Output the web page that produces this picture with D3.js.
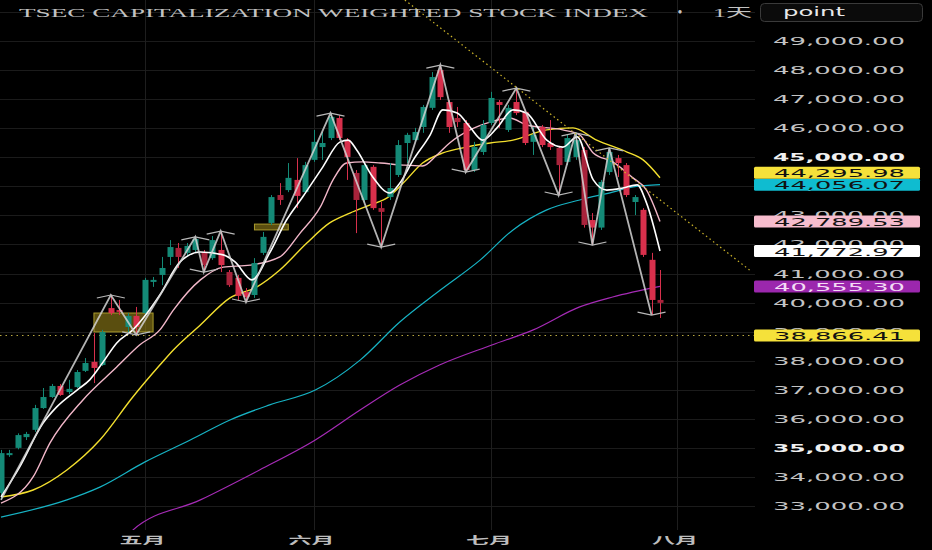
<!DOCTYPE html>
<html>
<head>
<meta charset="utf-8">
<script src="https://cdn.jsdelivr.net/npm/d3@7"></script>
<style>
  body { margin: 0; background: #000; overflow: hidden; }
</style>
</head>
<body>
<div id="chart"></div>
<script>
// bars (one per trading day)
const opens  = [33450,34750,35000,35370,35620,36370,36750,37130,36920,37090,37650,37960,37850,39810,39740,39160,39540,39640,40710,40950,
                41570,41880,41710,41810,41740,41530,41810,41050,40850,40360,40260,41710,42740,43700,43870,44220,43800,44910,45350,45660,
                46350,45590,44460,43530,44670,43250,43630,44390,45490,45590,46040,46700,48000,46900,46350,46180,44560,45180,46180,46900,
                45940,46900,46560,45530,46040,45490,45320,44840,45010,45250,42840,42580,44490,44970,44730,43460,43190,41470,40090];
const highs  = [34930,34930,35500,35550,36480,37060,37200,37200,37340,37680,38090,38950,39060,40260,40090,39640,39850,40850,40880,41570,
                42150,42050,42050,42260,41810,42290,42460,41120,40950,40500,41530,42430,43700,44110,44800,44970,44840,45940,45870,46520,
                46450,45660,44560,44840,44730,43460,44800,45590,45840,46010,46800,47930,48170,46970,46730,46280,45530,46280,47250,46970,
                46800,47380,46630,46040,46110,46280,45390,45770,45840,45350,43080,44220,45320,45080,44800,43700,43250,41710,41120];
const lows   = [33210,34690,34950,35270,35550,36340,36720,36790,36850,37060,37610,37230,37820,39570,39570,38950,38890,39570,40540,40600,
                41290,41190,41600,41740,41050,41470,41050,40540,40090,40020,40160,41640,42670,43360,43800,43250,43740,44840,44910,45590,
                45590,44220,42390,43430,43190,41910,43530,44320,44800,45530,45840,46630,46970,45840,46040,44490,44490,45080,46110,46010,
                45870,46450,45420,45080,45350,45250,43700,44730,44910,42580,41980,42500,44390,44320,43630,43010,41570,39570,39470];
const closes = [34820,34820,35440,35480,36370,36750,37130,36820,37030,37610,37920,37750,38990,39640,39680,39540,39160,40780,40780,41190,
                41910,41570,41950,42190,41290,42150,41290,40600,40230,40190,41360,42260,43630,43530,44290,43670,44730,45530,45490,46390,
                45660,45010,43530,44730,43250,43120,43940,45420,45770,45870,46730,47760,47070,46040,46210,44560,45350,46110,47040,46800,
                46700,46520,45490,45770,45420,45350,44730,45660,45590,42670,42580,44150,45180,44800,43700,43630,41640,40090,39990];

// swing points of the zigzag (bar index, price)
const pivotIdx = [0,13,16,23,24,26,29,39,45,52,55,61,66,68,70,72,77];
const pivotVal = [33210,40260,38890,42260,41050,42460,40020,46520,41910,48170,44490,47380,43700,45840,41980,45320,39570];

// moving averages: [bar index, value]
const maWhite = [[0,33310],[2.2,34340],[5,35860],[6.6,36410],[9,36990],[10.5,37340],[12.1,37960],[13.7,38610],[15.6,39060],[17.3,39640],
                 [18.8,40260],[21.2,41400],[23.6,41740],[26.3,41640],[27.7,41400],[29.7,40780],[31.8,41710],[33.8,42840],[35.7,43630],
                 [38.1,44670],[40.1,45520],[41.1,45590],[42.1,45250],[44,44320],[46,43770],[47.2,44110],[48.8,44910],[50.8,45770],
                 [52.3,46630],[54,46520],[55.5,46040],[57,45590],[58.7,46010],[60.6,46630],[62.2,46520],[64.6,45590],[66.5,45350],
                 [68.2,45700],[70.1,44220],[71.7,43870],[73.6,43940],[75.3,44050],[76.4,43430],[78,41772.97]];
const maPink  = [[0,33100],[3.8,34000],[5.8,35170],[9.7,36650],[13.7,37780],[16.4,38540],[18.8,39060],[20.4,39740],[23.6,40780],
                 [26.3,41220],[29.5,41290],[33,41570],[35.4,42390],[37.8,43290],[39.3,44220],[40.9,44800],[42.8,44840],[44.9,44800],
                 [47.6,44730],[49.9,44700],[51.6,45080],[53.1,45490],[55.5,45940],[57.9,46210],[60.2,46350],[62.2,46110],[66.5,45940],
                 [68.5,45770],[70.1,45150],[72.4,44840],[74.8,44290],[76.4,43870],[78,42789.53]];
const maYellow = [[0,33310],[3.8,33550],[7.8,34240],[11.7,35270],[15.6,36750],[18.8,37850],[20.4,38370],[23.6,39230],[27.1,40160],
                  [30.3,40540],[33,41120],[36.2,42050],[38.9,42740],[41.3,43080],[43.7,43360],[45.7,43600],[47.6,44110],[49.9,44800],
                  [52.3,45150],[55.1,45350],[57.9,45490],[60.6,45590],[64.6,45940],[67.7,46010],[70.5,45590],[74.1,45180],[76,44910],
                  [78,44295.98]];
const maCyan  = [[0,32620],[7.8,33210],[11.7,33650],[17,34510],[22.4,35270],[27.1,35960],[31.8,36480],[37.2,36990],[42.5,38020],
                 [47.2,39330],[52,40430],[56.7,41460],[60.6,42500],[64.6,43190],[68.5,43530],[72.4,43800],[74.8,43980],[78,44056.07]];
const maPurple = [[15,31950],[15.6,32170],[23.6,33210],[30.6,34240],[37.2,35270],[42.5,36300],[47.2,37160],[51.9,37850],[58.1,38540],
                  [63,39060],[68.5,39850],[72.4,40190],[78,40555.30]];

// drawing tools on the chart
const boxStart = [11, 30];
const boxEnd = [18, 34];
const boxTop = [39640, 42700];
const boxBottom = [38990, 42500];
const trendIdx = [47.8, 88.6];
const trendVal = [50410, 41120];
const hLineVal = 38866.41;

// axes
const yTicks = [33000,34000,35000,36000,37000,38000,39000,40000,41000,42000,43000,44000,45000,46000,47000,48000,49000];
const gridTop = 50000;
const boldTicks = [35000, 45000];
const monthLabels = ['五月', '六月', '七月', '八月'];
const monthStart = [17, 37, 58, 80];

const svgWidth = 932, svgHeight = 550;
const plotRight = 755, plotBottom = 530;

function translate(x, y) {
    return 'translate(' + x + ',' + y + ')';
}

const x = d3.scaleLinear().domain([0, 78]).range([1, 660]);
const y = d3.scaleLinear().domain([33000, 49000]).range([506, 41]);

const svg = d3.select('#chart').append('svg')
    .attr('width', svgWidth)
    .attr('height', svgHeight)
    .style('background', '#000');

svg.append('defs').append('clipPath').attr('id', 'plot')
    .append('rect').attr('x', 0).attr('y', 0).attr('width', plotRight).attr('height', plotBottom);

// grid
svg.append('g').selectAll('line').data(yTicks.concat([gridTop])).enter().append('line')
    .attr('x1', 0).attr('x2', plotRight)
    .attr('y1', d => Math.round(y(d)) + 0.5).attr('y2', d => Math.round(y(d)) + 0.5)
    .attr('stroke', '#1b1b1b');
svg.append('g').selectAll('line').data(monthStart).enter().append('line')
    .attr('x1', d => Math.round(x(d)) + 0.5).attr('x2', d => Math.round(x(d)) + 0.5)
    .attr('y1', 0).attr('y2', plotBottom)
    .attr('stroke', '#1e1e1e');

const plot = svg.append('g').attr('clip-path', 'url(#plot)');

// horizontal dotted level
plot.append('line')
    .attr('x1', 0).attr('x2', plotRight)
    .attr('y1', y(hLineVal)).attr('y2', y(hLineVal))
    .attr('stroke', '#b7a640').attr('stroke-width', 1)
    .attr('stroke-dasharray', '1.5,4');

// moving averages (slow ones behind)
const line = d3.line().x(d => x(d[0])).y(d => y(d[1])).curve(d3.curveMonotoneX);
const maSeries = [
    {data: maPurple, color: '#a62bb6', w: 1.2},
    {data: maCyan, color: '#17b3c4', w: 1.2},
    {data: maYellow, color: '#f3df2e', w: 1.4},
    {data: maPink, color: '#f2b7c9', w: 1.4},
];
plot.selectAll('.ma').data(maSeries).enter().append('path')
    .attr('class', 'ma')
    .attr('d', d => line(d.data))
    .attr('fill', 'none')
    .attr('stroke', d => d.color)
    .attr('stroke-width', d => d.w);

// boxes
plot.selectAll('.box').data(boxStart).enter().append('rect')
    .attr('class', 'box')
    .attr('x', (d, i) => x(d))
    .attr('y', (d, i) => y(boxTop[i]))
    .attr('width', (d, i) => x(boxEnd[i]) - x(d))
    .attr('height', (d, i) => y(boxBottom[i]) - y(boxTop[i]))
    .attr('fill', 'rgba(150,130,25,0.6)')
    .attr('stroke', '#a99a2c');

// candles
const idx = d3.range(opens.length);
const up = '#148a77', down = '#d7304c';
const candles = plot.append('g').selectAll('g').data(idx).enter().append('g');
candles.append('line')
    .attr('x1', i => Math.round(x(i)) + 0.5).attr('x2', i => Math.round(x(i)) + 0.5)
    .attr('y1', i => y(highs[i])).attr('y2', i => y(lows[i]))
    .attr('stroke', i => closes[i] >= opens[i] ? up : down);
candles.append('rect')
    .attr('x', i => Math.round(x(i)) - 2.5)
    .attr('width', 6)
    .attr('y', i => y(Math.max(opens[i], closes[i])))
    .attr('height', i => Math.max(1.5, Math.abs(y(opens[i]) - y(closes[i]))))
    .attr('fill', i => closes[i] >= opens[i] ? up : (i % 3 === 0 ? '#a8233b' : down));

// white MA on top of candles
plot.append('path')
    .attr('d', line(maWhite))
    .attr('fill', 'none')
    .attr('stroke', '#ffffff')
    .attr('stroke-width', 1.6);

// zigzag + chevrons
plot.append('path')
    .attr('d', d3.line()(pivotIdx.map((d, i) => [x(d), y(pivotVal[i])])))
    .attr('fill', 'none')
    .attr('stroke', '#d2d2d2')
    .attr('stroke-opacity', 0.85)
    .attr('stroke-width', 1.8);
plot.selectAll('.chev').data(pivotIdx.slice(1)).enter().append('path')
    .attr('class', 'chev')
    .attr('d', (d, k) => {
        const i = k + 1;
        const px = x(d), py = y(pivotVal[i]);
        const isHigh = pivotVal[i] > pivotVal[i - 1];
        const s = isHigh ? 1 : -1;
        return 'M' + (px - 14) + ',' + (py + 3 * s) + 'L' + px + ',' + py + 'L' + (px + 14) + ',' + (py + 3 * s);
    })
    .attr('fill', 'none')
    .attr('stroke', '#b9b9b9')
    .attr('stroke-width', 1.2);

// dotted trend line
plot.append('line')
    .attr('x1', x(trendIdx[0])).attr('y1', y(trendVal[0]))
    .attr('x2', x(trendIdx[1])).attr('y2', y(trendVal[1]))
    .attr('stroke', '#cdb52a').attr('stroke-width', 1.2)
    .attr('stroke-dasharray', '1.5,3');

// price axis labels
const axisFont = '"DejaVu Sans", sans-serif';
svg.append('g').selectAll('text').data(yTicks).enter().append('text')
    .attr('x', 773)
    .attr('y', d => y(d) + 4)
    .attr('textLength', 132)
    .attr('lengthAdjust', 'spacingAndGlyphs')
    .style('font-family', axisFont)
    .style('font-size', '11px')
    .style('font-weight', d => boldTicks.includes(d) ? 'bold' : 'normal')
    .attr('fill', d => boldTicks.includes(d) ? '#f0f0f0' : '#c4c4c4')
    .text(d => d3.format(',.2f')(d));

// value tags
const tags = [
    {v: maYellow[maYellow.length - 1][1], fill: '#f5e13a', text: '#111'},
    {v: maCyan[maCyan.length - 1][1], fill: '#0fbcd0', text: '#111'},
    {v: maPink[maPink.length - 1][1], fill: '#f6bccd', text: '#111'},
    {v: maWhite[maWhite.length - 1][1], fill: '#ffffff', text: '#111'},
    {v: maPurple[maPurple.length - 1][1], fill: '#9b27ad', text: '#f3dcf5'},
    {v: hLineVal, fill: '#f5e13a', text: '#111'},
];
tags.forEach(t => t.cy = y(t.v));
tags.sort((a, b) => b.cy - a.cy);
for (let k = 1; k < tags.length; k++) {
    if (tags[k - 1].cy - tags[k].cy < 12) tags[k].cy = tags[k - 1].cy - 12;
}
const tagG = svg.append('g').selectAll('g').data(tags).enter().append('g')
    .attr('transform', d => translate(0, d.cy));
tagG.append('rect')
    .attr('x', 754).attr('y', -6).attr('width', 166).attr('height', 12).attr('rx', 1.5)
    .attr('fill', d => d.fill);
tagG.append('text')
    .attr('x', 774).attr('y', 4.5)
    .attr('textLength', 131)
    .attr('lengthAdjust', 'spacingAndGlyphs')
    .style('font-family', axisFont)
    .style('font-size', '11px')
    .attr('fill', d => d.text)
    .text(d => d3.format(',.2f')(d.v));

// month labels
svg.append('g').selectAll('text').data(monthStart).enter().append('text')
    .attr('x', d => x(d) - 25)
    .attr('y', 544)
    .attr('textLength', 46)
    .attr('lengthAdjust', 'spacingAndGlyphs')
    .style('font-family', '"Noto Sans CJK SC", sans-serif')
    .style('font-size', '10px')
    .style('font-weight', 'bold')
    .attr('fill', '#bdbdbd')
    .text((d, i) => monthLabels[i]);

// title
const titleFont = '"Liberation Serif", "Noto Sans CJK SC", serif';
svg.append('text')
    .attr('x', 19).attr('y', 17)
    .attr('textLength', 629).attr('lengthAdjust', 'spacingAndGlyphs')
    .style('font-family', titleFont).style('font-size', '12px')
    .attr('fill', '#c2c2c2')
    .text('TSEC CAPITALIZATION WEIGHTED STOCK INDEX');
svg.append('text')
    .attr('x', 680).attr('y', 17).attr('text-anchor', 'middle')
    .style('font-family', titleFont).style('font-size', '14px')
    .attr('fill', '#c2c2c2')
    .text('•');
svg.append('text')
    .attr('x', 713).attr('y', 17)
    .attr('textLength', 39).attr('lengthAdjust', 'spacingAndGlyphs')
    .style('font-family', titleFont).style('font-size', '12px')
    .attr('fill', '#c2c2c2')
    .text('1天');

// interval button
svg.append('rect')
    .attr('x', 760.5).attr('y', 3.5).attr('width', 162).attr('height', 18).attr('rx', 4)
    .attr('fill', '#0b0b0b').attr('stroke', '#3a3a3a');
svg.append('text')
    .attr('x', 783).attr('y', 16)
    .attr('textLength', 62).attr('lengthAdjust', 'spacingAndGlyphs')
    .style('font-family', axisFont).style('font-size', '13px')
    .attr('fill', '#e8e8e8')
    .text('point');
</script>
</body>
</html>
